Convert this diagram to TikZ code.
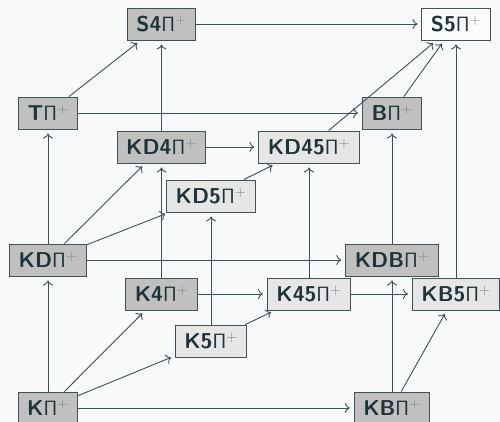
\documentclass[tikz,border=0pt]{standalone}
\usetikzlibrary{arrows.meta}
\definecolor{bgc}{RGB}{248,249,250}
\definecolor{txt}{RGB}{30,52,58}
\definecolor{edgec}{RGB}{62,82,88}
\definecolor{plusc}{RGB}{120,135,140}
\definecolor{darkf}{RGB}{192,192,192}
\definecolor{lightf}{RGB}{230,230,230}
\definecolor{whitef}{RGB}{252,252,252}
\newcommand{\logicname}[1]{\textbf{#1}$\mathsf{\Pi}^{\color{plusc}+}$}
\tikzset{
  sys/.style={draw=edgec, line width=0.9pt, text=txt, minimum height=32pt, inner xsep=9pt, inner ysep=0pt,
    font=\fontsize{21.5}{25}\selectfont\sffamily},
  darkbox/.style={sys, fill=darkf},
  lightbox/.style={sys, fill=lightf},
  whitebox/.style={sys, fill=whitef},
  edge/.style={draw=edgec, line width=0.9pt, -{Computer Modern Rightarrow[length=5pt,width=10pt]}, shorten >=4pt}
}
\begin{document}
\begin{tikzpicture}[x=1pt,y=-1pt]
\fill[bgc] (0,0) rectangle (500,422);
\useasboundingbox (0,0) rectangle (500,422);
\node[darkbox]  (S4)   at (161.5,24)  {\logicname{S4}};
\node[whitebox] (S5)   at (456,24)    {\logicname{S5}};
\node[darkbox]  (T)    at (48,113)    {\logicname{T}};
\node[darkbox]  (B)    at (392,113)   {\logicname{B}};
\node[darkbox]  (KD4)  at (161.5,147) {\logicname{KD4}};
\node[lightbox] (KD45) at (309,147)   {\logicname{KD45}};
\node[lightbox] (KD5)  at (211,196)   {\logicname{KD5}};
\node[darkbox]  (KD)   at (48,260)    {\logicname{KD}};
\node[darkbox]  (KDB)  at (392,260)   {\logicname{KDB}};
\node[darkbox]  (K4)   at (161.5,294) {\logicname{K4}};
\node[lightbox] (K45)  at (309,294)   {\logicname{K45}};
\node[lightbox] (KB5)  at (456,294)   {\logicname{KB5}};
\node[lightbox] (K5)   at (211,341)   {\logicname{K5}};
\node[darkbox]  (K)    at (48,408)    {\logicname{K}};
\node[darkbox]  (KB)   at (392,408)   {\logicname{KB}};
% horizontal
\draw[edge] (S4) -- (S5);
\draw[edge] (T) -- (B);
\draw[edge] (KD4) -- (KD45);
\draw[edge] (KD) -- (KDB);
\draw[edge] (K4) -- (K45);
\draw[edge] (K45) -- (KB5);
\draw[edge] (K) -- (KB);
% vertical
\draw[edge] (KD4) -- (S4);
\draw[edge] (KDB) -- (B);
\draw[edge] (KB5) -- (S5);
\draw[edge] (K45) -- (KD45);
\draw[edge] (K5) -- (KD5);
\draw[edge] (K4) -- (KD4);
\draw[edge] (KD) -- (T);
\draw[edge] (K) -- (KD);
\draw[edge] (KB) -- (KDB);
% diagonal
\draw[edge] (T) -- (S4);
\draw[edge] (KD45) -- (S5);
\draw[edge] (B) -- (S5);
\draw[edge] (KD) -- (KD4);
\draw[edge] (KD) -- (KD5);
\draw[edge] (KD5) -- (KD45);
\draw[edge] (K) -- (K4);
\draw[edge] (K) -- (K5);
\draw[edge] (K5) -- (K45);
\draw[edge] (KB) -- (KB5);
\end{tikzpicture}
\end{document}
